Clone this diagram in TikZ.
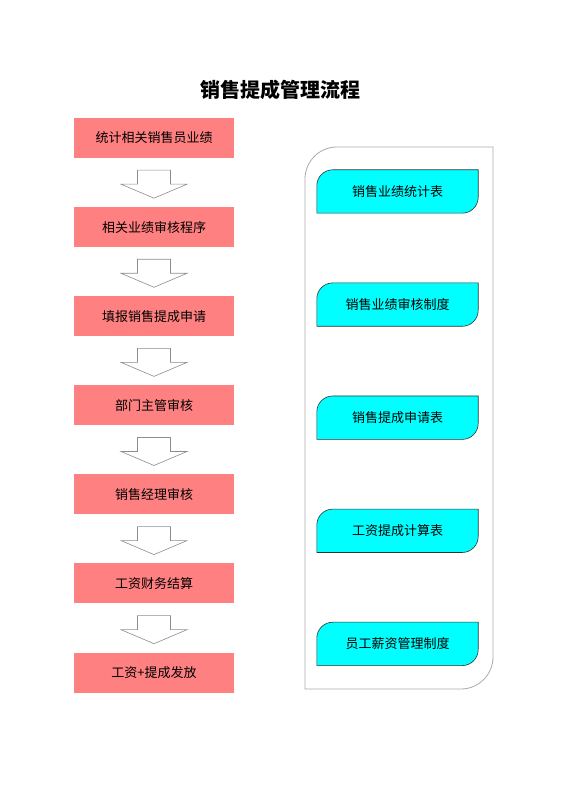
\documentclass[tikz,border=0pt]{standalone}
\usepackage{fontspec}
\setmainfont{Noto Sans CJK SC}
\usetikzlibrary{positioning,calc}
\definecolor{salmon}{RGB}{255,128,128}
\definecolor{aqua}{RGB}{0,255,255}
\definecolor{frame}{RGB}{170,170,170}
\tikzset{
  x=1pt,y=1pt,
  title/.style={font=\fontsize{20}{24}\selectfont\bfseries},
  stepbox/.style={fill=salmon,minimum width=160pt,minimum height=40pt,
    inner sep=0pt,font=\fontsize{13}{15}\selectfont},
  docbox/.style={minimum width=161pt,minimum height=43pt,inner sep=0pt},
  doctext/.style={font=\fontsize{13}{15}\selectfont},
  docshape/.style={fill=aqua,draw=black!80,line width=0.6pt},
  blockarrow/.style={draw=black!45,fill=white,line width=0.6pt},
  holder/.style={draw=frame,line width=0.8pt},
}
% hollow arrow below node #1
\newcommand{\flowarrow}[1]{%
  \draw[blockarrow] ($(#1.south)+(-16.5,-12)$) -- ($(#1.south)+(16.5,-12)$)
    -- ($(#1.south)+(16.5,-26)$) -- ($(#1.south)+(33,-26)$)
    -- ($(#1.south)+(0,-40)$) -- ($(#1.south)+(-33,-26)$)
    -- ($(#1.south)+(-16.5,-26)$) -- cycle;}
% document box, rounded at top left and bottom right
\newcommand{\docoutline}[1]{%
  \draw[docshape] (#1.south west) -- ($(#1.north west)+(0,-16)$)
    arc[start angle=180,end angle=90,radius=16] -- (#1.north east)
    -- ($(#1.south east)+(0,16)$)
    arc[start angle=0,end angle=-90,radius=16] -- cycle;}
\begin{document}
\begin{tikzpicture}
  \useasboundingbox (0,0) rectangle (560,792);
  \node[title] (head) at (280,702) {销售提成管理流程};

  % process steps
  \begin{scope}[node distance=48.7pt]
    \node[stepbox] (s1) at (154,654) {统计相关销售员业绩};
    \node[stepbox,below=of s1] (s2) {相关业绩审核程序};
    \node[stepbox,below=of s2] (s3) {填报销售提成申请};
    \node[stepbox,below=of s3] (s4) {部门主管审核};
    \node[stepbox,below=of s4] (s5) {销售经理审核};
    \node[stepbox,below=of s5] (s6) {工资财务结算};
    \node[stepbox,below=of s6] (s7) {工资+提成发放};
  \end{scope}
  \foreach \i in {s1,s2,s3,s4,s5,s6}{\flowarrow{\i}}

  % documents
  \coordinate (fnw) at (305,645);
  \coordinate (fse) at (493,103);
  \draw[holder] (fnw |- fse) -- ($(fnw)+(0,-32)$)
    arc[start angle=180,end angle=90,radius=32] -- (fse |- fnw)
    -- ($(fse)+(0,32)$) arc[start angle=0,end angle=-90,radius=32] -- cycle;
  \begin{scope}[node distance=69.7pt]
    \node[docbox] (d1) at (397.5,600.5) {};
    \node[docbox,below=of d1] (d2) {};
    \node[docbox,below=of d2] (d3) {};
    \node[docbox,below=of d3] (d4) {};
    \node[docbox,below=of d4] (d5) {};
  \end{scope}
  \foreach \i in {d1,d2,d3,d4,d5}{\docoutline{\i}}
  \node[doctext] (t1) at (d1) {销售业绩统计表};
  \node[doctext] (t2) at (d2) {销售业绩审核制度};
  \node[doctext] (t3) at (d3) {销售提成申请表};
  \node[doctext] (t4) at (d4) {工资提成计算表};
  \node[doctext] (t5) at (d5) {员工薪资管理制度};
\end{tikzpicture}
\end{document}
